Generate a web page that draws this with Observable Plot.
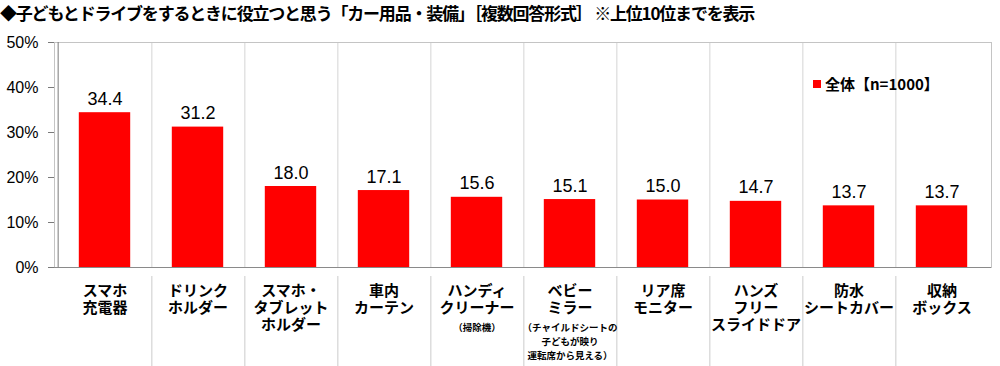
<!DOCTYPE html>
<html><head><meta charset="utf-8">
<script src="https://cdn.jsdelivr.net/npm/d3@7"></script>
<script src="https://cdn.jsdelivr.net/npm/@observablehq/plot@0.6"></script>
<style>
html,body{margin:0;padding:0;background:#fff;}
#wrap{position:relative;width:1000px;height:366px;overflow:hidden;}
#title{height:26px;line-height:26px;font-family:"Noto Sans CJK JP",sans-serif;font-weight:700;font-size:17px;letter-spacing:-1.2px;color:#000;white-space:nowrap;padding-left:0;}
#legend{position:absolute;left:813px;top:73px;font-family:"Noto Sans CJK JP",sans-serif;font-weight:700;font-size:15px;color:#000;display:flex;align-items:center;white-space:nowrap;}
#legend .sw{width:8px;height:8px;background:#ff0000;margin-right:4px;}
</style></head>
<body><div id="wrap"><div id="title"></div><div id="chart"></div><div id="legend"><span class="sw"></span><span id="legtxt"></span></div></div>
<script>
const titleText = "◆子どもとドライブをするときに役立つと思う「カー用品・装備」［複数回答形式］ ※上位10位までを表示";
const seriesName = "全体【n=1000】";
const categories = ["スマホ充電器","ドリンクホルダー","スマホ・タブレットホルダー","車内カーテン","ハンディクリーナー","ベビーミラー","リア席モニター","ハンズフリースライドドア","防水シートカバー","収納ボックス"];
const mainLabels = ["スマホ\n充電器","ドリンク\nホルダー","スマホ・\nタブレット\nホルダー","車内\nカーテン","ハンディ\nクリーナー","ベビー\nミラー","リア席\nモニター","ハンズ\nフリー\nスライドドア","防水\nシートカバー","収納\nボックス"];
const subLabels = ["","","","","（掃除機）","（チャイルドシートの\n子どもが映り\n運転席から見える）","","","",""];
const values = [34.4,31.2,18.0,17.1,15.6,15.1,15.0,14.7,13.7,13.7];
const yTicks = [0,10,20,30,40,50];

document.getElementById("title").textContent = titleText;
document.getElementById("legtxt").textContent = seriesName;

const data = categories.map((c,i)=>({cat:c, value:values[i], main:mainLabels[i], sub:subLabels[i]}));
const W = 1000, mL = 54, mR = 9;
const step = (W - mL - mR) / categories.length;
const jp = "Noto Sans CJK JP, sans-serif";

const chart = Plot.plot({
  width: W, height: 340,
  marginTop: 16, marginBottom: 99, marginLeft: mL, marginRight: mR,
  x: {domain: categories, padding: 0, axis: null},
  y: {domain: [0, 50], axis: null},
  style: {background: "white", color: "black", fontFamily: "Liberation Sans, Arial, sans-serif"},
  marks: [
    Plot.ruleX(categories.slice(0, -1), {dx: step/2, stroke: "#d4d4d4"}),
    Plot.ruleX(categories.slice(0, -1), {y1: -2, y2: -22, dx: step/2, stroke: "#cccccc"}),
    Plot.frame({stroke: "#c4c4c4"}),
    Plot.barY(data, {x: "cat", y: "value", fill: "#ff0000", insetLeft: step*0.222, insetRight: step*0.222}),
    Plot.ruleY([0], {stroke: "#8a8a8a"}),
    Plot.ruleX([categories[0]], {dx: -step/2, stroke: "#7a7a7a"}),
    Plot.axisY({ticks: yTicks, tickFormat: d => d + "%", tickSize: 6, tickPadding: 10, fontSize: 16, stroke: "#7a7a7a", label: null}),
    Plot.text(data, {x: "cat", y: "value", text: d => d.value.toFixed(1), lineAnchor: "bottom", dy: -8, fontSize: 18, fill: "black"}),
    Plot.text(data, {x: "cat", text: "main", frameAnchor: "bottom", lineAnchor: "top", dy: 16, fontSize: 15, fontWeight: 700, fontFamily: jp, lineHeight: 1.15, fill: "black"}),
    Plot.text(data.filter(d => d.sub), {x: "cat", text: "sub", frameAnchor: "bottom", lineAnchor: "top", dy: 53, fontSize: 9.5, fontWeight: 700, fontFamily: jp, lineHeight: 1.5, fill: "black"})
  ]
});
document.getElementById("chart").appendChild(chart);
</script></body></html>
